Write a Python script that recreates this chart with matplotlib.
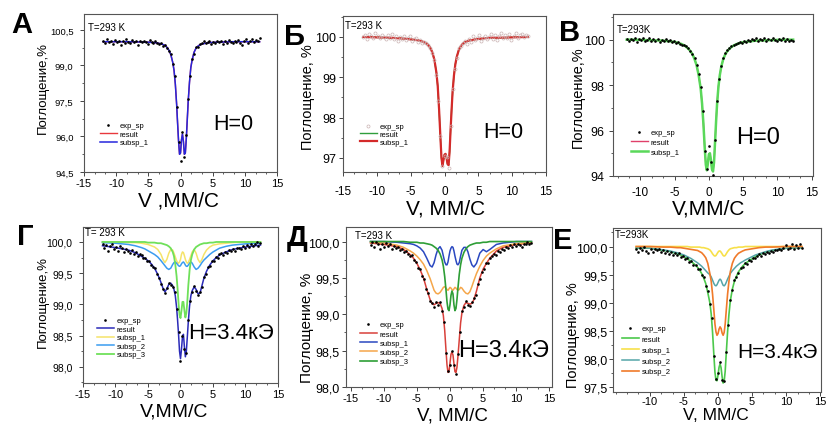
import numpy as np
import matplotlib.pyplot as plt
from matplotlib.ticker import FixedLocator, MultipleLocator, AutoMinorLocator, FuncFormatter

plt.rcParams['font.family'] = ['Liberation Sans', 'DejaVu Sans']
plt.rcParams['axes.unicode_minus'] = False

# velocity channels of the measured spectra, mm/s
V_EXP = [-12.0, -11.7, -11.4, -11.1, -10.8, -10.5, -10.2, -9.9, -9.6, -9.3,
         -9.0, -8.7, -8.4, -8.1, -7.8, -7.5, -7.2, -6.9, -6.6, -6.3,
         -6.0, -5.7, -5.4, -5.1, -4.8, -4.5, -4.2, -3.9, -3.6, -3.3,
         -3.0, -2.7, -2.4, -2.1, -1.8, -1.5, -1.2, -0.9, -0.6, -0.3,
         0.0, 0.3, 0.6, 0.9, 1.2, 1.5, 1.8, 2.1, 2.4, 2.7,
         3.0, 3.3, 3.6, 3.9, 4.2, 4.5, 4.8, 5.1, 5.4, 5.7,
         6.0, 6.3, 6.6, 6.9, 7.2, 7.5, 7.8, 8.1, 8.4, 8.7,
         9.0, 9.3, 9.6, 9.9, 10.2, 10.5, 10.8, 11.1, 11.4, 11.7,
         12.0, 12.3]

V_FIT = [-12.0, -10.0, -8.0, -7.0, -6.0, -5.5, -5.0, -4.5, -4.0, -3.5,
         -3.0, -2.7, -2.4, -2.1, -1.8, -1.5, -1.2, -1.0, -0.8, -0.6,
         -0.45, -0.3, -0.15, 0.0, 0.15, 0.3, 0.45, 0.6, 0.75, 0.9,
         1.05, 1.2, 1.4, 1.6, 1.8, 2.1, 2.4, 2.7, 3.0, 3.3,
         3.6, 4.0, 4.5, 5.0, 5.5, 6.0, 7.0, 8.0, 10.0, 12.3]

# ---- А: H=0 ----
A_EXP = [100.05, 99.95, 100.1, 99.98, 100.02, 99.9, 100.08, 99.97, 100.04, 99.85,
         100.03, 99.96, 100.1, 100.0, 99.93, 100.06, 99.98, 100.02, 99.88, 100.05,
         99.97, 100.04, 99.99, 99.92, 100.06, 99.98, 99.95, 100.02, 99.93, 99.9,
         99.95, 99.84, 99.88, 99.72, 99.6, 99.5, 99.05, 98.55, 97.25, 95.75,
         94.98, 96.2, 95.15, 96.05, 97.6, 98.55, 99.28, 99.5, 99.78, 99.76,
         99.9, 99.95, 100.02, 99.93, 99.97, 100.05, 99.9, 100.0, 99.95, 100.03,
         99.98, 100.05, 99.92, 100.02, 99.96, 100.08, 99.99, 99.94, 100.03, 99.97,
         100.06, 99.95, 99.85, 100.02, 100.1, 99.96, 100.04, 100.12, 99.98, 100.08,
         100.05, 100.15]
A_RESULT = [100.0, 100.0, 100.0, 99.99, 99.99, 99.98, 99.98, 99.97, 99.96, 99.94,
            99.91, 99.88, 99.84, 99.76, 99.64, 99.45, 99.12, 98.78, 98.2, 97.35,
            96.55, 95.8, 95.25, 95.3, 95.85, 96.1, 95.8, 95.25, 95.3, 95.9,
            96.7, 97.5, 98.3, 98.9, 99.22, 99.55, 99.72, 99.81, 99.87, 99.9,
            99.92, 99.94, 99.96, 99.97, 99.98, 99.98, 99.99, 100.0, 100.0, 100.0]
A_SUB1 = A_RESULT  # one component only

# ---- Б: H=0 ----
B_EXP = [100.0, 100.05, 99.95, 100.08, 100.02, 99.97, 100.1, 100.03, 99.98, 100.06,
         100.0, 99.94, 100.04, 99.98, 100.07, 99.95, 100.02, 99.9, 100.0, 99.96,
         100.03, 99.93, 99.98, 100.02, 99.9, 99.95, 99.97, 99.88, 99.92, 99.86,
         99.87, 99.84, 99.8, 99.72, 99.6, 99.42, 99.05, 98.4, 97.55, 96.8,
         97.05, 97.02, 96.75, 97.8, 98.7, 99.2, 99.48, 99.72, 99.78, 99.86,
         99.9, 99.82, 99.95, 99.88, 100.02, 99.92, 99.97, 100.06, 99.9, 99.98,
         100.03, 99.94, 100.0, 100.08, 99.96, 100.04, 99.92, 100.02, 100.1, 99.97,
         100.05, 99.98, 100.07, 99.93, 100.02, 100.1, 99.97, 100.04, 100.08, 99.99,
         100.05, 100.02]
B_RESULT = [100.0, 99.99, 99.98, 99.97, 99.96, 99.95, 99.94, 99.93, 99.92, 99.9,
            99.87, 99.84, 99.8, 99.73, 99.62, 99.44, 99.12, 98.78, 98.2, 97.5,
            97.0, 96.8, 96.95, 97.08, 97.1, 97.0, 96.85, 96.82, 97.15, 97.7,
            98.2, 98.65, 99.05, 99.32, 99.5, 99.67, 99.77, 99.83, 99.87, 99.89,
            99.91, 99.92, 99.94, 99.95, 99.96, 99.97, 99.98, 99.98, 99.99, 100.0]
B_SUB1 = B_RESULT

# ---- В: H=0 ----
V_EXP_C = [100.02, 99.95, 100.05, 99.98, 100.08, 99.9, 100.03, 99.97, 100.06, 99.93,
           100.0, 100.08, 99.94, 100.02, 99.96, 100.05, 99.9, 100.0, 99.95, 100.04,
           99.92, 99.98, 99.88, 99.95, 99.85, 99.9, 99.82, 99.78, 99.75, 99.7,
           99.62, 99.52, 99.38, 99.18, 98.9, 98.5, 97.9, 96.85, 95.1, 94.3,
           95.3, 94.6, 94.05, 95.6, 97.3, 98.25, 98.85, 99.2, 99.42, 99.55,
           99.65, 99.72, 99.78, 99.8, 99.84, 99.9, 99.86, 99.95, 99.9, 99.98,
           99.93, 100.03, 99.97, 100.06, 99.94, 100.02, 99.98, 100.07, 99.96, 100.03,
           99.97, 100.08, 100.0, 99.94, 100.05, 99.98, 100.06, 99.95, 100.02, 99.93,
           100.0, 99.92]
C_RESULT = [100.0, 99.99, 99.97, 99.96, 99.94, 99.92, 99.9, 99.86, 99.81, 99.73,
            99.6, 99.5, 99.36, 99.15, 98.88, 98.45, 97.85, 97.2, 96.3, 95.2,
            94.5, 94.25, 94.55, 94.95, 95.0, 94.7, 94.3, 94.2, 94.6, 95.5,
            96.4, 97.2, 97.95, 98.45, 98.8, 99.15, 99.36, 99.5, 99.6, 99.68,
            99.74, 99.8, 99.85, 99.89, 99.91, 99.93, 99.96, 99.97, 99.99, 100.0]
C_SUB1 = C_RESULT

# ---- Г: H=3.4 kOe ----
G_EXP = [99.97, 99.9, 99.95, 99.85, 99.93, 99.96, 99.88, 99.92, 99.86, 99.94,
         99.9, 99.84, 99.88, 99.86, 99.82, 99.87, 99.8, 99.84, 99.78, 99.8,
         99.79, 99.74, 99.75, 99.69, 99.7, 99.63, 99.6, 99.58, 99.48, 99.42,
         99.33, 99.24, 99.18, 99.27, 99.35, 99.31, 99.28, 99.2, 98.92, 98.55,
         98.1, 98.5, 98.28, 98.22, 98.75, 99.05, 99.2, 99.3, 99.22, 99.15,
         99.2, 99.28, 99.44, 99.48, 99.6, 99.61, 99.7, 99.69, 99.76, 99.75,
         99.8, 99.82, 99.79, 99.84, 99.83, 99.87, 99.85, 99.88, 99.86, 99.9,
         99.91, 99.88, 99.93, 99.9, 99.95, 99.92, 99.97, 99.93, 99.96, 100.0,
         99.94, 99.98]
G_RESULT = [99.94, 99.91, 99.87, 99.83, 99.77, 99.74, 99.7, 99.65, 99.58, 99.48,
            99.35, 99.26, 99.2, 99.25, 99.32, 99.34, 99.3, 99.24, 99.14, 98.95,
            98.75, 98.52, 98.25, 98.13, 98.28, 98.48, 98.52, 98.32, 98.16, 98.25,
            98.48, 98.72, 98.98, 99.14, 99.22, 99.28, 99.24, 99.17, 99.18, 99.3,
            99.42, 99.53, 99.63, 99.7, 99.75, 99.79, 99.84, 99.88, 99.92, 99.95]
G_SUB1 = [100.0, 100.0, 99.99, 99.99, 99.98, 99.97, 99.96, 99.94, 99.92, 99.88,
          99.8, 99.72, 99.67, 99.72, 99.82, 99.88, 99.87, 99.82, 99.76, 99.7,
          99.67, 99.66, 99.68, 99.72, 99.8, 99.84, 99.83, 99.78, 99.72, 99.68,
          99.66, 99.67, 99.72, 99.78, 99.84, 99.88, 99.82, 99.72, 99.67, 99.72,
          99.8, 99.87, 99.92, 99.95, 99.96, 99.97, 99.98, 99.99, 100.0, 100.0]
G_SUB2 = [99.99, 99.98, 99.96, 99.94, 99.91, 99.89, 99.86, 99.83, 99.8, 99.76,
          99.7, 99.66, 99.62, 99.58, 99.56, 99.58, 99.64, 99.67, 99.68, 99.66,
          99.64, 99.62, 99.61, 99.62, 99.65, 99.67, 99.68, 99.66, 99.63, 99.61,
          99.61, 99.63, 99.66, 99.68, 99.66, 99.6, 99.56, 99.58, 99.62, 99.67,
          99.71, 99.75, 99.8, 99.84, 99.87, 99.9, 99.93, 99.95, 99.97, 99.98]
G_SUB3 = [100.0, 100.0, 100.0, 100.0, 100.0, 100.0, 99.99, 99.99, 99.99, 99.98,
          99.98, 99.97, 99.96, 99.95, 99.93, 99.9, 99.84, 99.77, 99.64, 99.45,
          99.25, 99.02, 98.83, 98.78, 98.9, 99.04, 99.04, 98.9, 98.79, 98.86,
          99.05, 99.3, 99.55, 99.71, 99.8, 99.88, 99.92, 99.94, 99.96, 99.97,
          99.98, 99.98, 99.99, 99.99, 100.0, 100.0, 100.0, 100.0, 100.0, 100.0]

# ---- Д: H=3.4 kOe ----
D_EXP = [99.95, 99.99, 99.92, 100.0, 99.96, 99.9, 99.97, 99.93, 99.98, 99.94,
         99.96, 99.9, 99.94, 99.91, 99.92, 99.88, 99.9, 99.86, 99.87, 99.83,
         99.8, 99.81, 99.74, 99.72, 99.64, 99.62, 99.53, 99.48, 99.35, 99.29,
         99.18, 99.16, 99.1, 99.17, 99.13, 99.17, 99.05, 98.9, 98.47, 98.22,
         98.3, 98.5, 98.3, 98.18, 98.45, 98.75, 99.05, 99.1, 99.18, 99.13,
         99.12, 99.17, 99.22, 99.27, 99.41, 99.48, 99.58, 99.62, 99.7, 99.71,
         99.78, 99.8, 99.83, 99.82, 99.87, 99.86, 99.9, 99.89, 99.93, 99.91,
         99.95, 99.92, 99.96, 99.94, 99.97, 99.95, 99.93, 99.97, 99.96, 99.99,
         99.96, 99.98]
D_RESULT = [99.98, 99.96, 99.93, 99.89, 99.82, 99.77, 99.7, 99.61, 99.5, 99.34,
            99.2, 99.15, 99.13, 99.15, 99.16, 99.15, 99.08, 98.98, 98.78, 98.5,
            98.3, 98.2, 98.21, 98.33, 98.45, 98.48, 98.44, 98.32, 98.21, 98.2,
            98.27, 98.42, 98.65, 98.88, 99.02, 99.12, 99.16, 99.15, 99.14, 99.15,
            99.2, 99.32, 99.5, 99.62, 99.7, 99.77, 99.87, 99.92, 99.96, 99.98]
D_SUB1 = [100.0, 100.0, 99.99, 99.98, 99.97, 99.96, 99.94, 99.91, 99.86, 99.77,
          99.67, 99.65, 99.71, 99.82, 99.9, 99.93, 99.88, 99.8, 99.72, 99.68,
          99.68, 99.72, 99.8, 99.87, 99.91, 99.93, 99.92, 99.87, 99.8, 99.74,
          99.69, 99.68, 99.71, 99.8, 99.88, 99.92, 99.92, 99.86, 99.76, 99.68,
          99.65, 99.7, 99.84, 99.89, 99.86, 99.89, 99.96, 99.98, 100.0, 100.0]
D_SUB2 = [99.99, 99.98, 99.95, 99.92, 99.87, 99.84, 99.8, 99.75, 99.69, 99.6,
          99.49, 99.41, 99.33, 99.29, 99.28, 99.3, 99.34, 99.37, 99.38, 99.36,
          99.34, 99.33, 99.35, 99.37, 99.36, 99.34, 99.33, 99.35, 99.37, 99.36,
          99.34, 99.33, 99.34, 99.37, 99.36, 99.32, 99.29, 99.28, 99.31, 99.38,
          99.46, 99.56, 99.66, 99.74, 99.8, 99.84, 99.9, 99.94, 99.97, 99.99]
D_SUB3 = [100.0, 100.0, 100.0, 100.0, 99.99, 99.99, 99.99, 99.98, 99.98, 99.97,
          99.96, 99.95, 99.93, 99.91, 99.88, 99.83, 99.75, 99.66, 99.52, 99.33,
          99.17, 99.07, 99.05, 99.13, 99.26, 99.32, 99.28, 99.13, 99.05, 99.08,
          99.2, 99.36, 99.55, 99.68, 99.77, 99.85, 99.9, 99.93, 99.95, 99.96,
          99.97, 99.98, 99.98, 99.99, 99.99, 100.0, 100.0, 100.0, 100.0, 100.0]

# ---- Е: H=3.4 kOe ----
E_EXP = [99.95, 99.9, 99.97, 99.93, 100.0, 99.92, 99.88, 99.95, 99.9, 99.96,
         99.93, 99.96, 99.9, 99.94, 99.89, 99.92, 99.87, 99.9, 99.85, 99.88,
         99.85, 99.88, 99.82, 99.84, 99.77, 99.8, 99.73, 99.74, 99.68, 99.67,
         99.6, 99.6, 99.49, 99.46, 99.3, 99.2, 98.98, 98.72, 98.05, 97.65,
         97.75, 97.95, 97.62, 97.6, 98.12, 98.6, 99.05, 99.22, 99.4, 99.45,
         99.53, 99.62, 99.63, 99.7, 99.69, 99.76, 99.75, 99.8, 99.79, 99.84,
         99.86, 99.84, 99.88, 99.87, 99.9, 99.89, 99.92, 99.91, 99.94, 99.93,
         99.96, 99.94, 99.97, 100.03, 99.95, 99.98, 100.05, 99.96, 100.02, 99.98,
         100.05, 99.97]
E_RESULT = [99.97, 99.97, 99.93, 99.91, 99.87, 99.85, 99.82, 99.78, 99.74, 99.69,
            99.63, 99.58, 99.52, 99.44, 99.34, 99.18, 99.0, 98.8, 98.47, 98.05,
            97.76, 97.62, 97.61, 97.71, 97.85, 97.91, 97.84, 97.68, 97.57, 97.6,
            97.78, 98.08, 98.48, 98.79, 99.03, 99.24, 99.38, 99.47, 99.55, 99.6,
            99.65, 99.7, 99.74, 99.78, 99.82, 99.85, 99.9, 99.93, 99.97, 99.98]
E_SUB1 = [100.0, 100.0, 100.0, 100.0, 100.0, 100.0, 100.0, 100.0, 99.99, 99.99,
          99.99, 99.99, 99.98, 99.98, 99.97, 99.96, 99.94, 99.91, 99.87, 99.84,
          99.83, 99.84, 99.87, 99.9, 99.92, 99.92, 99.9, 99.87, 99.84, 99.83,
          99.84, 99.87, 99.91, 99.94, 99.96, 99.97, 99.98, 99.98, 99.99, 99.99,
          99.99, 100.0, 100.0, 100.0, 100.0, 100.0, 100.0, 100.0, 100.0, 100.0]
E_SUB2 = [99.98, 99.97, 99.94, 99.92, 99.89, 99.87, 99.85, 99.82, 99.79, 99.75,
          99.71, 99.68, 99.65, 99.61, 99.57, 99.53, 99.5, 99.46, 99.4, 99.34,
          99.31, 99.3, 99.32, 99.36, 99.4, 99.42, 99.4, 99.35, 99.31, 99.3,
          99.32, 99.36, 99.42, 99.47, 99.52, 99.57, 99.61, 99.65, 99.68, 99.71,
          99.73, 99.76, 99.79, 99.82, 99.85, 99.87, 99.91, 99.94, 99.97, 99.98]
E_SUB3 = [100.0, 100.0, 99.99, 99.99, 99.98, 99.98, 99.97, 99.96, 99.95, 99.94,
          99.93, 99.91, 99.89, 99.85, 99.8, 99.7, 99.52, 99.38, 99.15, 98.85,
          98.62, 98.48, 98.42, 98.45, 98.53, 98.57, 98.54, 98.46, 98.42, 98.47,
          98.62, 98.85, 99.15, 99.38, 99.55, 99.7, 99.79, 99.84, 99.88, 99.9,
          99.92, 99.94, 99.95, 99.96, 99.97, 99.98, 99.99, 99.99, 100.0, 100.0]


W, H = 826, 427
fig = plt.figure(figsize=(W / 100, H / 100), dpi=100)
fig.patch.set_facecolor('white')


def frac(rect, x, y):
    # pixel position -> axes fraction
    l, t, r, b = rect
    return (x - l) / (r - l), (b - y) / (b - t)


comma = FuncFormatter(lambda y, _: f'{y:.1f}'.replace('.', ','))
integer = FuncFormatter(lambda y, _: f'{y:.0f}')

panels = [
    dict(letter='А', rect=(84, 15, 277, 173), xlim=(-15, 15), ylim=(94.5, 101.17),
         xticks=[-15, -10, -5, 0, 5, 10, 15], ystep=1.5, yfmt=comma,
         exp=A_EXP, exp_style=dict(color='black', ms=1.9),
         curves=[('result', A_RESULT, '#e8383d', 1.0), ('subsp_1', A_SUB1, '#2626dc', 1.1)],
         T='T=293 K', H='H=0', hsize=15.5,
         letter_xy=(22, 25), T_xy=(88, 28), H_xy=(233, 125),
         xlabel='V ,ММ/С', xl_xy=(179, 201.5), xlsize=15, ylabel='Поглощение,%', yl_xy=(43, 88),
         ylsize=9.5, leg_xy=(100, 123), leg_space=0.15, xtsize=8, ytsize=6.8, xpad=1, ypad=4.5),
    dict(letter='Б', rect=(343, 17, 546, 173), xlim=(-15, 15), ylim=(96.65, 100.52),
         xticks=[-15, -10, -5, 0, 5, 10, 15], ystep=1, yfmt=integer,
         exp=B_EXP, exp_style=dict(color='#c9b3b3', ms=2.2, mfc='none', mew=0.5),
         curves=[('result', B_RESULT, '#2f9e3c', 1.0), ('subsp_1', B_SUB1, '#d42a2a', 1.6)],
         T='T=293 K', H='H=0', hsize=15.5,
         letter_xy=(295, 37), T_xy=(345, 26), H_xy=(503, 133),
         xlabel='V, ММ/С', xl_xy=(446, 209), xlsize=15, ylabel='Поглощение, %', yl_xy=(308, 97),
         ylsize=10.5, leg_xy=(360, 124), leg_space=0.05, xtsize=8.5, ytsize=9, xpad=6.5, ypad=2),
    dict(letter='В', rect=(613, 15, 813, 177), xlim=(-14, 15.2), ylim=(94.0, 101.13),
         xticks=[-10, -5, 0, 5, 10, 15], ystep=2, yfmt=integer,
         exp=V_EXP_C, exp_style=dict(color='black', ms=1.9),
         curves=[('result', C_RESULT, '#e0406a', 1.0), ('subsp_1', C_SUB1, '#5ad85a', 1.8)],
         T='T=293K', H='H=0', hsize=17,
         letter_xy=(570, 33), T_xy=(617, 30), H_xy=(758, 138),
         xlabel='V,ММ/С', xl_xy=(709, 209), xlsize=15, ylabel='Поглощение,%', yl_xy=(578, 97),
         ylsize=10.5, leg_xy=(631, 130), leg_space=0.3, xtsize=8.5, ytsize=9, xpad=4, ypad=3),
    dict(letter='Г', rect=(83, 228, 278, 384), xlim=(-15, 15), ylim=(97.74, 100.24),
         xticks=[-15, -10, -5, 0, 5, 10, 15], ystep=0.5, yfmt=comma,
         exp=G_EXP, exp_style=dict(color='black', ms=1.9),
         curves=[('result', G_RESULT, '#2a2ab8', 1.1), ('subsp_1', G_SUB1, '#f5e36a', 1.1),
                 ('subsp_2', G_SUB2, '#3b9cf0', 1.1), ('subsp_3', G_SUB3, '#6fe05a', 1.3)],
         T='T= 293 K', H='H=3.4кЭ', hsize=16,
         letter_xy=(25, 237), T_xy=(85, 233), H_xy=(231, 334),
         xlabel='V,ММ/С', xl_xy=(174, 412), xlsize=14, ylabel='Поглощение,%', yl_xy=(43, 302),
         ylsize=9.5, leg_xy=(97, 318), leg_space=0.15, xtsize=8, ytsize=7.5, xpad=1, ypad=4.5),
    dict(letter='Д', rect=(346, 228, 552, 388), xlim=(-15.7, 15.4), ylim=(98.0, 100.2),
         xticks=[-15, -10, -5, 0, 5, 10, 15], ystep=0.5, yfmt=comma,
         exp=D_EXP, exp_style=dict(color='black', ms=1.9),
         curves=[('result', D_RESULT, '#d8403a', 1.1), ('subsp_1', D_SUB1, '#2a48c0', 1.1),
                 ('subsp_2', D_SUB2, '#f5a64a', 1.1), ('subsp_3', D_SUB3, '#2e9e36', 1.2)],
         T='T=293 K', H='H=3.4кЭ', hsize=17,
         letter_xy=(297, 238), T_xy=(355, 236), H_xy=(504, 351),
         xlabel='V, ММ/С', xl_xy=(452, 416), xlsize=13.5, ylabel='Поглощение, %', yl_xy=(307, 328),
         ylsize=11, leg_xy=(360, 322), leg_space=0.25, xtsize=8, ytsize=9, xpad=1, ypad=1.5),
    dict(letter='Е', rect=(613, 229, 821, 393), xlim=(-15.4, 15.1), ylim=(97.41, 100.33),
         xticks=[-10, -5, 0, 5, 10, 15], ystep=0.5, yfmt=comma,
         exp=E_EXP, exp_style=dict(color='black', ms=1.9),
         curves=[('result', E_RESULT, '#4cc84c', 1.2), ('subsp_1', E_SUB1, '#f7e04a', 1.2),
                 ('subsp_2', E_SUB2, '#55a5a8', 1.1), ('subsp_2', E_SUB3, '#f07a2a', 1.2)],
         T='T=293K', H='H=3.4кЭ', hsize=15,
         letter_xy=(563, 241), T_xy=(615, 235), H_xy=(777, 352),
         xlabel='V, ММ/С', xl_xy=(716, 416), xlsize=12.5, ylabel='Поглощение, %', yl_xy=(573, 335),
         ylsize=10.5, leg_xy=(622, 326), leg_space=0.45, xtsize=8, ytsize=9, xpad=0, ypad=1),
]

for p in panels:
    rect = p['rect']
    l, t, r, b = rect
    ax = fig.add_axes([l / W, 1 - b / H, (r - l) / W, (b - t) / H])

    ax.plot(V_EXP, p['exp'], ls='none', marker='o', mew=p['exp_style'].get('mew', 0),
            ms=p['exp_style']['ms'], color=p['exp_style']['color'],
            mfc=p['exp_style'].get('mfc', p['exp_style']['color']),
            label='exp_sp', zorder=4)
    for name, ys, c, lw in p['curves']:
        ax.plot(V_FIT, ys, color=c, lw=lw, label=name, zorder=3)

    ax.set_xlim(*p['xlim'])
    ax.set_ylim(*p['ylim'])
    ax.xaxis.set_major_locator(FixedLocator(p['xticks']))
    ax.xaxis.set_minor_locator(AutoMinorLocator(3))
    ax.yaxis.set_major_locator(MultipleLocator(p['ystep']))
    ax.yaxis.set_minor_locator(AutoMinorLocator(2))
    ax.yaxis.set_major_formatter(p['yfmt'])
    ax.tick_params(which='major', direction='out', length=3, width=0.7, color='#444')
    ax.tick_params(which='minor', direction='out', length=1.6, width=0.6, color='#444')
    ax.tick_params(axis='x', labelsize=p['xtsize'], pad=p['xpad'], top=False)
    ax.tick_params(axis='y', labelsize=p['ytsize'], pad=p['ypad'], right=False)
    for s in ax.spines.values():
        s.set_linewidth(0.8)
        s.set_color('#555555')

    ax.set_xlabel(p['xlabel'], fontsize=p['xlsize'], va='center')
    ax.xaxis.set_label_coords(*frac(rect, *p['xl_xy']))
    ax.set_ylabel(p['ylabel'], fontsize=p['ylsize'], va='center', ha='center')
    ax.yaxis.set_label_coords(*frac(rect, *p['yl_xy']))

    ax.text(*frac(rect, *p['T_xy']), p['T'], transform=ax.transAxes,
            ha='left', va='center', fontsize=7)
    ax.text(*frac(rect, *p['H_xy']), p['H'], transform=ax.transAxes,
            ha='center', va='center', fontsize=p['hsize'])

    ax.legend(loc='upper left', bbox_to_anchor=frac(rect, *p['leg_xy']), frameon=False,
              fontsize=5.5, handlelength=2.2, handletextpad=0.4, numpoints=1,
              labelspacing=p['leg_space'], borderpad=0, borderaxespad=0)

    lx, ly = p['letter_xy']
    fig.text(lx / W, 1 - ly / H, p['letter'], ha='center', va='center',
             fontsize=21, fontweight='bold')

fig.savefig('out.png', dpi=100, facecolor='white')
